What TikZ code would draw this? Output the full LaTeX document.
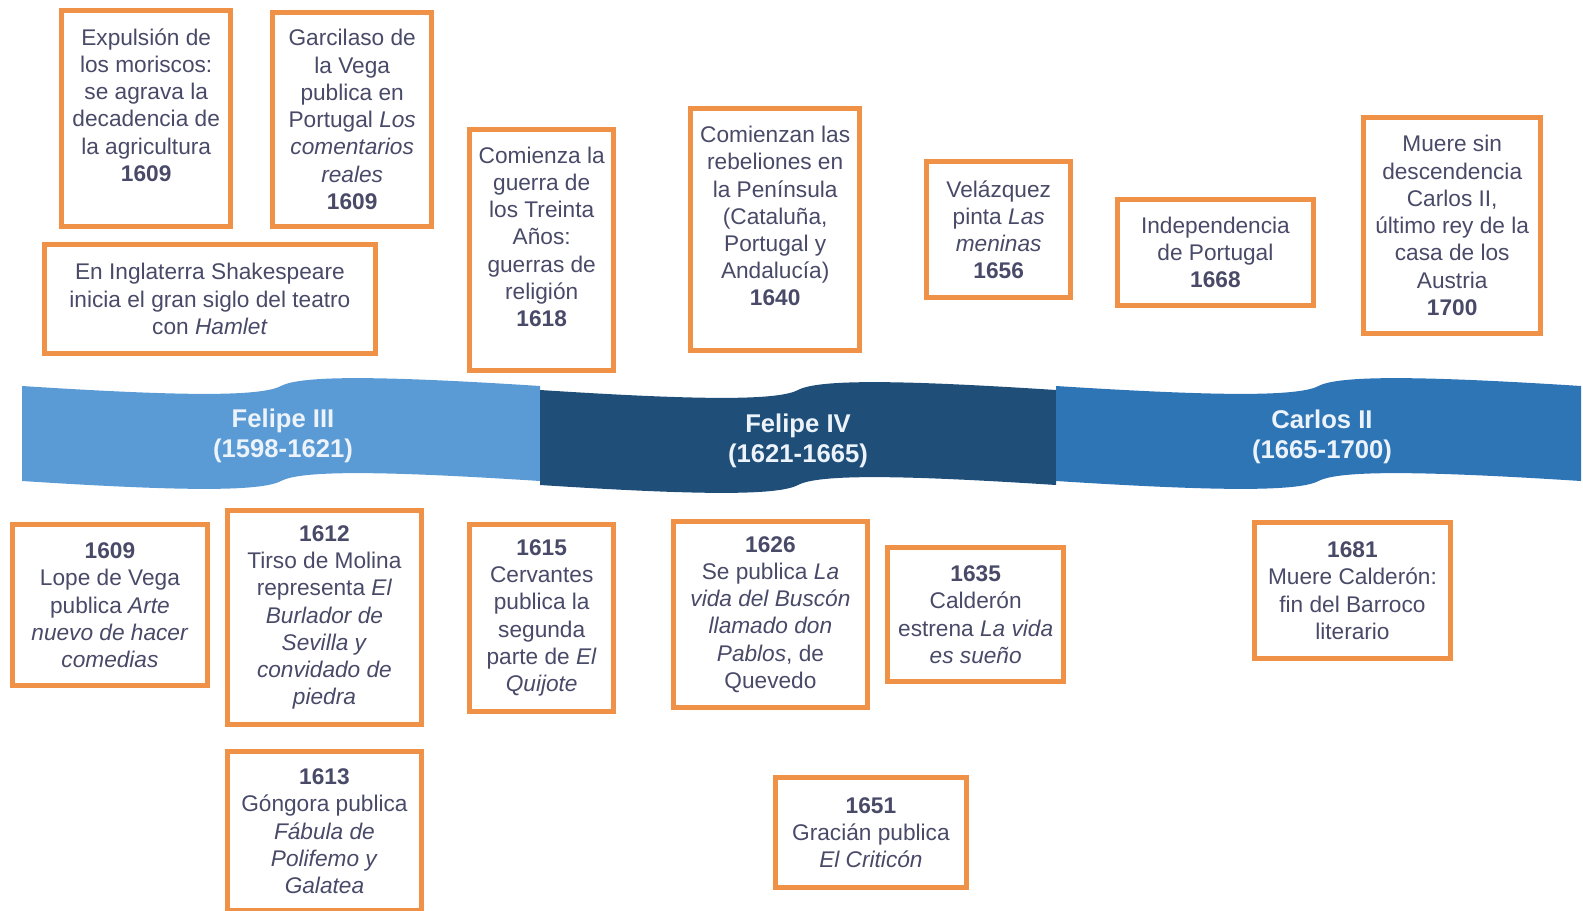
\documentclass[tikz,border=0pt]{standalone}
\usepackage{fontspec}
\setmainfont{Liberation Sans}
\definecolor{evorange}{RGB}{240,145,72}
\definecolor{evtext}{RGB}{72,74,104}
\definecolor{reignone}{RGB}{91,155,213}
\definecolor{reigntwo}{RGB}{31,78,121}
\definecolor{reignthree}{RGB}{46,117,182}
\definecolor{reigntext}{RGB}{236,243,250}
\tikzset{
    event/.style={rectangle, draw=evorange, line width=2.8pt, fill=white, align=center, anchor=north west, inner xsep=2pt, inner ysep=0pt, text=evtext, font=\fontsize{12.9}{15.5}\selectfont},
    reign/.style={align=center, text=reigntext, font=\fontsize{14.6}{17.2}\selectfont\bfseries},
}

\begin{document}
\begin{tikzpicture}[x=0.02cm, y=-0.02cm]
    \foreach \xo/\w/\m/\col in {22/518/386/reignone, 540/516/390/reigntwo, 1056/525/386/reignthree} {
        \fill[\col] (\xo,\m) .. controls ({\xo+0.3*\w},\m+10) and ({\xo+0.46*\w},\m+11) .. ({\xo+0.5*\w},\m)
            .. controls ({\xo+0.54*\w},\m-11) and ({\xo+0.7*\w},\m-10) .. ({\xo+\w},\m)
            -- ({\xo+\w},\m+95)
            .. controls ({\xo+0.7*\w},\m+85) and ({\xo+0.54*\w},\m+84) .. ({\xo+0.5*\w},\m+95)
            .. controls ({\xo+0.46*\w},\m+106) and ({\xo+0.3*\w},\m+105) .. (\xo,\m+95) -- cycle;
    }
    \node[reign] (felipe3) at (283,436) {Felipe III\\(1598-1621)};
    \node[reign] (felipe4) at (798,441) {Felipe IV\\(1621-1665)};
    \node[reign] (carlos2) at (1322,437) {Carlos II\\(1665-1700)};

    \node[event, minimum width=3.39cm, minimum height=4.32cm] (moriscos) at (59,8) {Expulsión de\\los moriscos:\\se agrava la\\decadencia de\\la agricultura\\\textbf{1609}\\~};
    \node[event, minimum width=3.19cm, minimum height=4.28cm] (garcilaso) at (270,10) {Garcilaso de\\la Vega\\publica en\\Portugal \textit{Los}\\\textit{comentarios}\\\textit{reales}\\\textbf{1609}};
    \node[event, minimum width=6.62cm, minimum height=2.18cm] (hamlet) at (42,242) {En Inglaterra Shakespeare\\inicia el gran siglo del teatro\\con \textit{Hamlet}};
    \node[event, minimum width=2.89cm, minimum height=4.83cm] (treinta) at (467,127) {Comienza la\\guerra de\\los Treinta\\Años:\\guerras de\\religión\\\textbf{1618}\\~};
    \node[event, minimum width=3.39cm, minimum height=4.85cm] (rebeliones) at (688,106) {Comienzan las\\rebeliones en\\la Península\\(Cataluña,\\Portugal y\\Andalucía)\\\textbf{1640}\\~};
    \node[event, minimum width=2.89cm, minimum height=2.73cm] (meninas) at (924,159) {Velázquez\\pinta \textit{Las}\\\textit{meninas}\\\textbf{1656}};
    \node[event, minimum width=3.92cm, minimum height=2.12cm] (portugal) at (1115,197) {Independencia\\de Portugal\\\textbf{1668}};
    \node[event, minimum width=3.55cm, minimum height=4.32cm] (austria) at (1361,115) {Muere sin\\descendencia\\Carlos II,\\último rey de la\\casa de los\\Austria\\\textbf{1700}};

    \node[event, minimum width=3.90cm, minimum height=3.23cm] (lope) at (10,522) {\textbf{1609}\\Lope de Vega\\publica \textit{Arte}\\\textit{nuevo de hacer}\\\textit{comedias}};
    \node[event, minimum width=3.88cm, minimum height=4.28cm] (tirso) at (225,508) {\textbf{1612}\\Tirso de Molina\\representa \textit{El}\\\textit{Burlador de}\\\textit{Sevilla y}\\\textit{convidado de}\\\textit{piedra}};
    \node[event, minimum width=3.88cm, minimum height=3.19cm] (gongora) at (225,749) {\textbf{1613}\\Góngora publica\\\textit{Fábula de}\\\textit{Polifemo y}\\\textit{Galatea}};
    \node[event, minimum width=2.89cm, minimum height=3.74cm] (quijote) at (467,522) {\textbf{1615}\\Cervantes\\publica la\\segunda\\parte de \textit{El}\\\textit{Quijote}};
    \node[event, minimum width=3.88cm, minimum height=3.72cm] (buscon) at (671,519) {\textbf{1626}\\Se publica \textit{La}\\\textit{vida del Buscón}\\\textit{llamado don}\\\textit{Pablos}, de\\Quevedo};
    \node[event, minimum width=3.53cm, minimum height=2.69cm] (sueno) at (885,545) {\textbf{1635}\\Calderón\\estrena \textit{La vida}\\\textit{es sueño}};
    \node[event, minimum width=3.82cm, minimum height=2.20cm] (criticon) at (773,775) {\textbf{1651}\\Gracián publica\\\textit{El Criticón}};
    \node[event, minimum width=3.92cm, minimum height=2.73cm] (barroco) at (1252,520) {\textbf{1681}\\Muere Calderón:\\fin del Barroco\\literario};

    \pgfresetboundingbox
    \useasboundingbox (0,0) rectangle (1583,910);
\end{tikzpicture}
\end{document}
